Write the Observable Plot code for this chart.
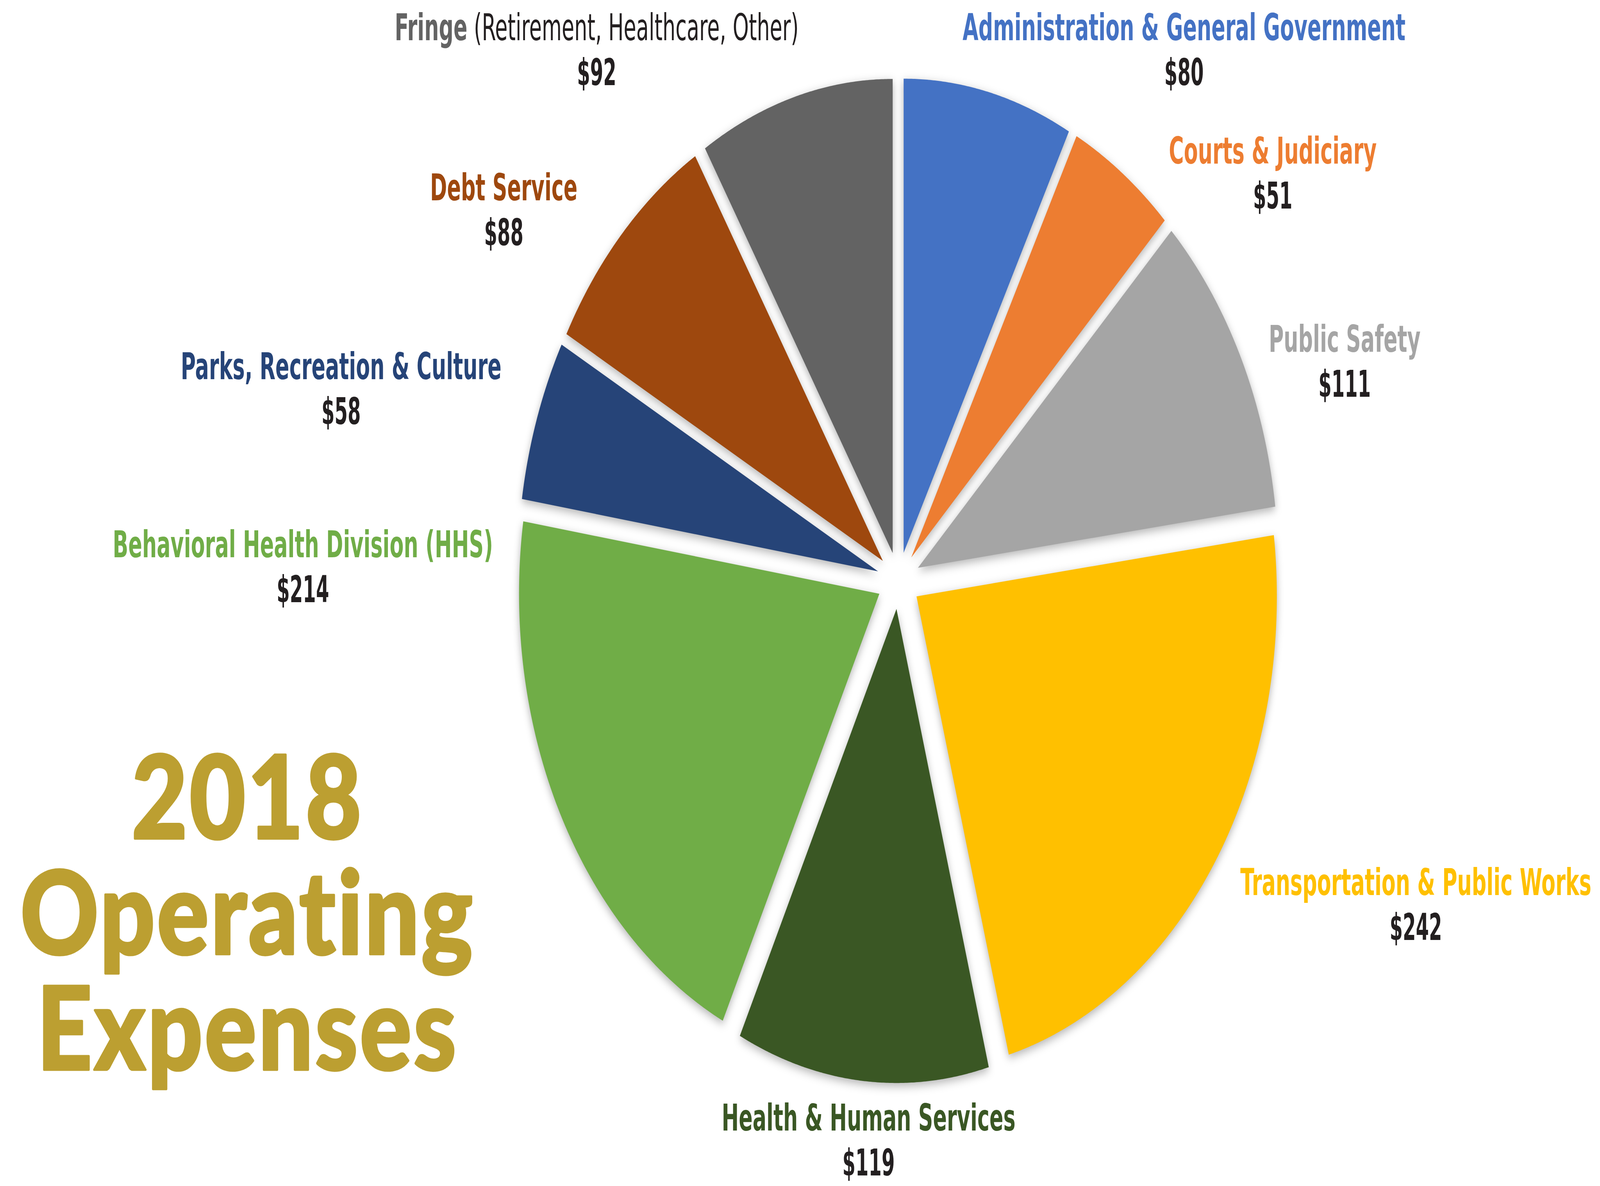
<!DOCTYPE html>
<html>
<head>
<meta charset="utf-8">
<script src="https://cdn.jsdelivr.net/npm/d3@7"></script>
<script src="https://cdn.jsdelivr.net/npm/@observablehq/plot@0.6"></script>
<style>
  html, body { margin: 0; padding: 0; background: #ffffff; width: 100vw; height: 100vh; overflow: hidden; }
  #chart { width: 100vw; height: 100vh; }
  #chart svg { display: block; }
</style>
</head>
<body>
<div id="chart"></div>
<script>
// ---------------- DATA ----------------
const categories = [
  "Administration & General Government",
  "Courts & Judiciary",
  "Public Safety",
  "Transportation & Public Works",
  "Health & Human Services",
  "Behavioral Health Division (HHS)",
  "Parks, Recreation & Culture",
  "Debt Service",
  "Fringe"
];
const values = [80, 51, 111, 242, 119, 214, 58, 88, 92];
const notes = ["", "", "", "", "", "", "", "", "(Retirement, Healthcare, Other)"];
const titleLines = ["2018", "Operating", "Expenses"];

// ---------------- STYLE / LAYOUT ----------------
const palette = ["#4472C4", "#ED7D31", "#A5A5A5", "#FFC000", "#3A5724", "#70AD47", "#264478", "#9E480E", "#636363"];
const W = 5391, H = 3037;
const CX = 3027, CY = 1486, R = 1214;      // pie centre and radius in pixels
const EXPLODE = 73 / R;                     // radial explosion, in pie radii
// label anchors (centre x, baseline of the category line) in pie-radius units
const labelAnchor = [
  [0.7924, 1.1400],
  [1.0387, 0.8797],
  [1.2381, 0.4819],
  [1.4358, -0.6631],
  [-0.0832, -1.1600],
  [-1.6532, 0.0494],
  [-1.5470, 0.4250],
  [-1.0956, 0.8015],
  [-0.8377, 1.1400]
];
const titleAnchor = [-1.807, -1.032];
const labelFont = '"Liberation Sans Narrow", "Arial Narrow", "DejaVu Sans Condensed", sans-serif';
const labelSize = 94;
const valueGap = 115;
const titleSize = 296;
const nameSqueeze = 0.815, valueSqueeze = 0.75, titleStretch = 1.1;

// ---------------- GEOMETRY FROM DATA ----------------
const rows = categories.map((name, i) => ({name, value: values[i], note: notes[i]}));
const arcs = d3.pie().sort(null).value(d => d.value)(rows);
const slicePoints = arcs.flatMap(p => {
  const mid = (p.startAngle + p.endAngle) / 2;
  const ox = EXPLODE * Math.sin(mid), oy = EXPLODE * Math.cos(mid);
  const n = Math.max(2, Math.ceil((p.endAngle - p.startAngle) / (Math.PI / 720)));
  const pts = d3.range(n + 1).map(k => {
    const a = p.startAngle + (p.endAngle - p.startAngle) * k / n;
    return {name: p.data.name, x: ox + Math.sin(a), y: oy + Math.cos(a)};
  });
  return [{name: p.data.name, x: ox, y: oy}, ...pts];
});
const labels = rows.map((r, i) => ({
  name: r.name,
  label: r.note ? `${r.name} ${r.note}` : r.name,
  value: "$" + r.value,
  note: r.note,
  x: labelAnchor[i][0],
  y: labelAnchor[i][1]
}));

// ---------------- PLOT ----------------
const chart = Plot.plot({
  width: W,
  height: H,
  margin: 0,
  style: {background: "#ffffff"},
  x: {domain: [-CX / R, (W - CX) / R], axis: null},
  y: {domain: [-(H - CY) / R, CY / R], axis: null},
  color: {domain: categories, range: palette},
  marks: [
    // shadow copy (blurred after render)
    Plot.line(slicePoints, {
      x: "x", y: "y", z: "name", fill: "#000000", fillOpacity: 0.3, stroke: "none",
      dy: 8, curve: "linear-closed", ariaDescription: "slice-shadow"
    }),
    Plot.line(slicePoints, {
      x: "x", y: "y", z: "name", fill: "name", stroke: "none",
      curve: "linear-closed", ariaDescription: "slices"
    }),
    Plot.text(labels, {
      x: "x", y: "y", text: "label", fill: "name",
      fontFamily: labelFont, fontWeight: "bold", fontSize: labelSize,
      lineAnchor: "bottom", textAnchor: "middle", ariaDescription: "category-label"
    }),
    Plot.text(labels, {
      x: "x", y: "y", text: "value", dy: valueGap, fill: "#231F20",
      fontFamily: labelFont, fontWeight: "bold", fontSize: labelSize,
      lineAnchor: "bottom", textAnchor: "middle", ariaDescription: "value-label"
    }),
    Plot.text([titleLines.join("\n")], {
      x: () => titleAnchor[0], y: () => titleAnchor[1], text: d => d,
      fill: "#BC9F31", stroke: "#BC9F31", strokeWidth: 6,
      fontFamily: "Lato, 'Open Sans', sans-serif", fontWeight: 900,
      fontSize: titleSize, lineHeight: 1.0, lineAnchor: "bottom", textAnchor: "middle",
      ariaDescription: "title"
    })
  ]
});

const svg = d3.select(chart);
const group = name => svg.select(`g[aria-description="${name}"]`);

// SVG blur filter for the shadow copy
const defs = svg.insert("defs", ":first-child");
defs.append("filter")
  .attr("id", "pie-soft-shadow")
  .attr("filterUnits", "userSpaceOnUse")
  .attr("x", 0).attr("y", 0).attr("width", W).attr("height", H)
  .append("feGaussianBlur").attr("stdDeviation", 12);
group("slice-shadow").attr("filter", "url(#pie-soft-shadow)");

// mixed styling for labels that carry a note
group("category-label").selectAll("text").each(function () {
  const d = labels.find(l => l.note && l.label === this.textContent);
  if (d) {
    const t = d3.select(this);
    t.text(null);
    t.append("tspan").text(d.name);
    t.append("tspan").attr("fill", "#231F20").attr("font-weight", "normal").text(" " + d.note);
  }
});

// horizontal scaling of glyphs around their anchor (condensed labels, wide title)
function squeeze(sel, sx) {
  sel.each(function () {
    const t = this.getAttribute("transform") || "";
    const x = parseFloat(this.getAttribute("x"));
    if (!isNaN(x)) this.setAttribute("x", x / sx);
    this.setAttribute("transform", `${t} scale(${sx},1)`.trim());
  });
}
squeeze(group("category-label").selectAll("text"), nameSqueeze);
squeeze(group("value-label").selectAll("text"), valueSqueeze);

// title: no ligatures, slight tracking, a little wider
group("title").selectAll("text")
  .style("font-variant-ligatures", "none")
  .style("letter-spacing", "0.02em")
  .style("stroke-linejoin", "round");
squeeze(group("title").selectAll("text"), titleStretch);

// fill the browser window with the full 5391×3037 drawing
svg.attr("viewBox", `0 0 ${W} ${H}`)
  .attr("preserveAspectRatio", "none")
  .style("max-width", "none")
  .style("width", "100vw")
  .style("height", "100vh");

document.getElementById("chart").appendChild(chart);
</script>
</body>
</html>
